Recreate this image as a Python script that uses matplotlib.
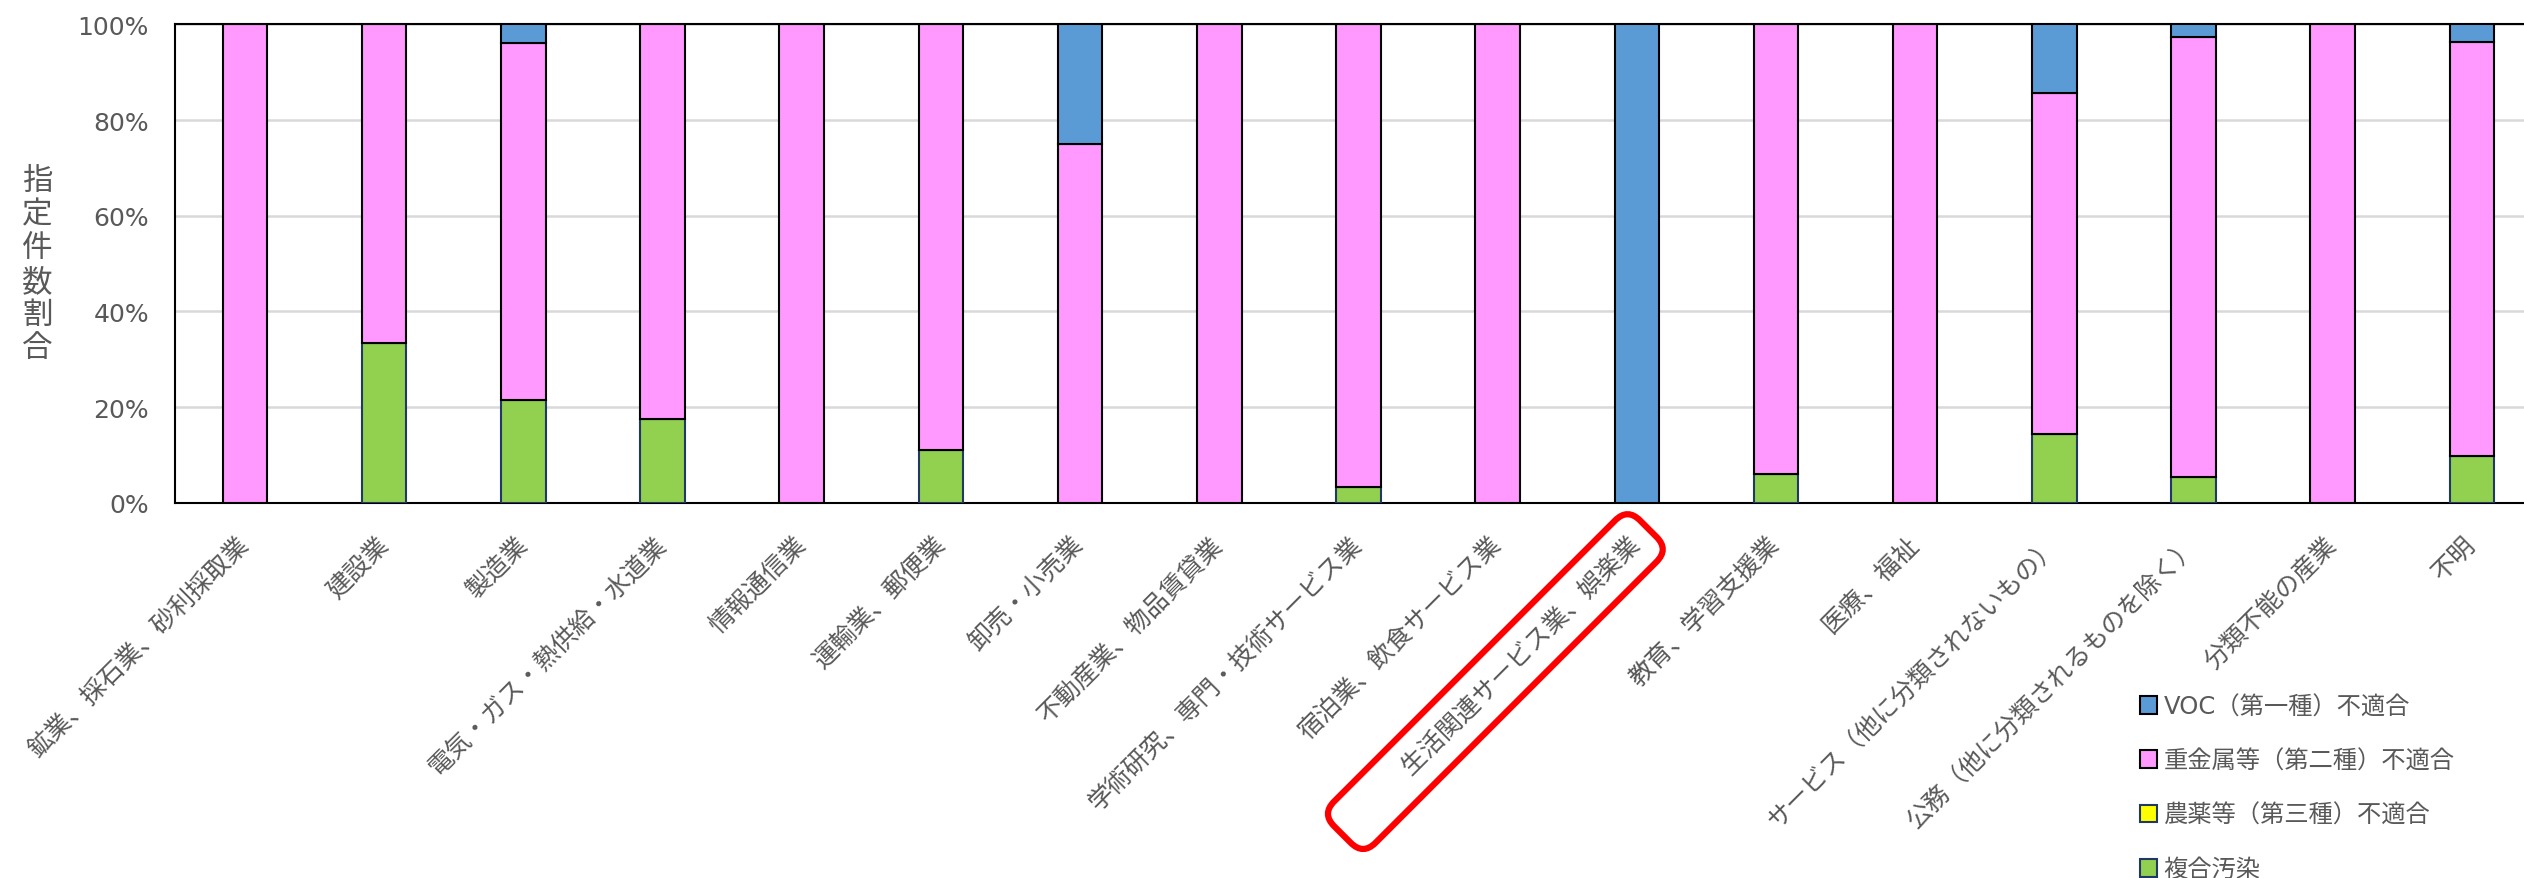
import matplotlib.pyplot as plt
import numpy as np

plt.rcParams['font.family'] = ['DejaVu Sans', 'Noto Sans CJK JP']
jp = ['Noto Sans CJK JP', 'DejaVu Sans']

# 業種
categories = [
    '鉱業、採石業、砂利採取業', '建設業', '製造業', '電気・ガス・熱供給・水道業',
    '情報通信業', '運輸業、郵便業', '卸売・小売業', '不動産業、物品賃貸業',
    '学術研究、専門・技術サービス業', '宿泊業、飲食サービス業',
    '生活関連サービス業、娯楽業', '教育、学習支援業', '医療、福祉',
    'サービス（他に分類されないもの）', '公務（他に分類されるものを除く）',
    '分類不能の産業', '不明',
]

# 割合 (%)
fukugo = [0, 33.3, 21.5, 17.4, 0, 11.1, 0, 0, 3.3, 0, 0, 6.0, 0, 14.3, 5.3, 0, 9.7]
noyaku = [0] * 17
jukinzoku = [100, 66.7, 74.7, 82.6, 100, 88.9, 75.0, 100, 96.7, 100, 0, 94.0, 100, 71.4, 92.1, 100, 86.6]
voc = [0, 0, 3.8, 0, 0, 0, 25.0, 0, 0, 0, 100, 0, 0, 14.3, 2.6, 0, 3.7]

series = [
    ('複合汚染', fukugo, '#92D050', '#1F3864'),
    ('農薬等（第三種）不適合', noyaku, '#FFFF00', '#1F3864'),
    ('重金属等（第二種）不適合', jukinzoku, '#FF99FF', 'black'),
    ('VOC（第一種）不適合', voc, '#5B9BD5', 'black'),
]

gray = '#595959'

fig = plt.figure(figsize=(25.24, 8.79), dpi=100)
ax = fig.add_axes([0.0695, 0.427, 0.9374, 0.544])

x = np.arange(len(categories))
bottom = np.zeros(len(categories))
handles = {}
for name, vals, color, edge in series:
    vals = np.array(vals, dtype=float)
    b = ax.bar(x, vals, 0.32, bottom=bottom, color=color, edgecolor=edge,
               linewidth=1.5, label=name, zorder=3)
    handles[name] = b
    bottom += vals

ax.set_xlim(-0.5, len(categories) - 0.5)
ax.set_ylim(0, 100)
ax.set_yticks([0, 20, 40, 60, 80, 100])
ax.set_yticklabels(['0%', '20%', '40%', '60%', '80%', '100%'])
ax.yaxis.grid(True, color='#D9D9D9', linewidth=1.8, zorder=0)
ax.tick_params(axis='both', length=0, colors=gray)
ax.tick_params(axis='y', pad=19, labelsize=18)

# 強調する業種の前に余白
labels = list(categories)
labels[10] = '\u3000\u3000\u3000' + labels[10]
ax.set_xticks(x)
ax.set_xticklabels(labels, rotation=45, ha='right', va='center',
                   rotation_mode='anchor', fontsize=18, color=gray, family=jp)
ax.tick_params(axis='x', pad=27)
for spine in ax.spines.values():
    spine.set_color('black')
    spine.set_linewidth(1.5)

# 強調枠
lbl = ax.get_xticklabels()[10]
lbl.set_bbox(dict(boxstyle='round,pad=0.65,rounding_size=0.7', fc='none',
                  ec='#FF0000', lw=4.5))

fig.text(0.0147, 0.698, '\n'.join('指定件数割合'), fontsize=22, color=gray,
         ha='center', va='center', linespacing=1.1, family=jp)

order = ['VOC（第一種）不適合', '重金属等（第二種）不適合', '農薬等（第三種）不適合', '複合汚染']
ax.legend([handles[n] for n in order], order, loc='upper left',
          bbox_to_anchor=(0.839, 0.234), bbox_transform=fig.transFigure,
          frameon=False, fontsize=17.5, labelcolor=gray, handlelength=0.74,
          handleheight=0.74, handletextpad=0.25, labelspacing=1.25)

fig.savefig('out.png', dpi=100)
